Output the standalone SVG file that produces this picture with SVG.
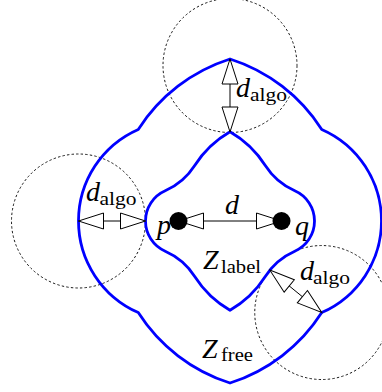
<svg xmlns="http://www.w3.org/2000/svg" width="382" height="392" viewBox="0 0 382 392">
<style>
.zone{fill:none;stroke:#0000ff;stroke-width:2.8;stroke-linejoin:miter}
.range{fill:none;stroke:#000;stroke-width:0.9;stroke-dasharray:2.4 2.2}
.dim{fill:none;stroke:#000;stroke-width:1;marker-start:url(#oh);marker-end:url(#oh)}
.m{font-family:"Liberation Serif","DejaVu Serif",serif;font-style:italic;font-size:28px;fill:#000}
.s{font-style:normal;font-size:19px}
.pt{fill:#000}
</style>
<defs>
<marker id="oh" markerUnits="userSpaceOnUse" viewBox="-1 -10 28 20" refX="25" refY="0" markerWidth="28" markerHeight="20" orient="auto-start-reverse">
<path d="M0,-8 L25,0 L0,8 Z" fill="#fff" stroke="#000" stroke-width="1"/>
</marker>
</defs>
<g id="ranges">
<circle class="range" cx="230" cy="65.5" r="67"/>
<circle class="range" cx="78.5" cy="221" r="67"/>
<circle class="range" cx="321.75" cy="312.54" r="67"/>
</g>
<g id="zfree">
<path class="zone" d="M230 58.99 A170 170 0 0 0 138.25 129.46 A100 100 0 0 0 138.25 312.54 A170 170 0 0 0 230 383.01 A170 170 0 0 0 321.75 312.54 A100 100 0 0 0 321.75 129.46 A170 170 0 0 0 230 58.99 Z"/>
<text class="m" x="202" y="357.5">Z<tspan class="s" x="221" dy="3.5" textLength="32" lengthAdjust="spacingAndGlyphs">free</tspan></text>
</g>
<g id="zlabel">
<path class="zone" d="M230 131.8 A103 103 0 0 0 194.71 165.54 A67 67 0 0 1 165.22 190.79 A33 33 0 0 0 165.22 251.21 A67 67 0 0 1 194.71 276.46 A103 103 0 0 0 230 310.2 A103 103 0 0 0 265.29 276.46 A67 67 0 0 1 294.78 251.21 A33 33 0 0 0 294.78 190.79 A67 67 0 0 1 265.29 165.54 A103 103 0 0 0 230 131.8 Z"/>
<text class="m" x="203" y="269">Z<tspan class="s" x="221" dy="3.5" textLength="40" lengthAdjust="spacingAndGlyphs">label</tspan></text>
</g>
<g id="connectors">
<line class="dim" x1="230" y1="59" x2="230" y2="132"/>
<line class="dim" x1="78.5" y1="221" x2="145.5" y2="221"/>
<line class="dim" x1="178.5" y1="221" x2="281.5" y2="221"/>
<line class="dim" x1="321.75" y1="312.54" x2="269.9" y2="270.15"/>
</g>
<g id="labels">
<text class="m" x="236" y="97">d<tspan class="s" x="250" dy="3.5" textLength="37" lengthAdjust="spacingAndGlyphs">algo</tspan></text>
<text class="m" x="86" y="201">d<tspan class="s" x="99.5" dy="3.5" textLength="37" lengthAdjust="spacingAndGlyphs">algo</tspan></text>
<text class="m" x="300" y="280">d<tspan class="s" x="313" dy="3.5" textLength="37" lengthAdjust="spacingAndGlyphs">algo</tspan></text>
<text class="m" x="225" y="214">d</text>
</g>
<g id="p">
<circle class="pt" cx="178.5" cy="221" r="9"/>
<text class="m" x="157" y="234">p</text>
</g>
<g id="q">
<circle class="pt" cx="281.5" cy="221" r="9"/>
<text class="m" x="295" y="235">q</text>
</g>
</svg>
